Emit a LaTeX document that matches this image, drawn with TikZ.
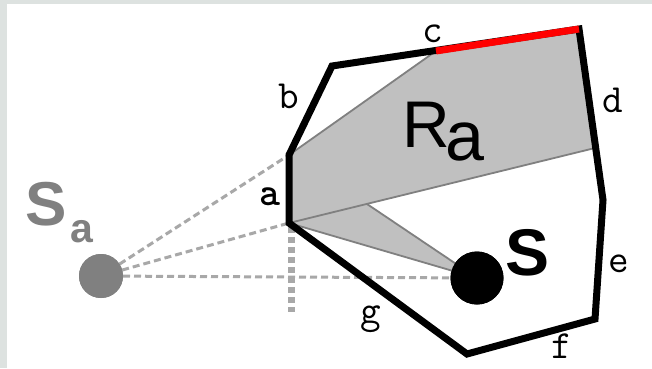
\documentclass[tikz,border=0pt]{standalone}
\usepackage{fontspec}
\setsansfont{Liberation Sans}
\definecolor{framegray}{HTML}{DDE2E0}
\definecolor{regiongray}{HTML}{C0C0C0}
\definecolor{edgegray}{HTML}{808080}
\definecolor{dashgray}{HTML}{A8A8A8}
\definecolor{pointgray}{HTML}{808080}
\begin{document}
\begin{tikzpicture}[x=1pt,y=-1pt,
  region/.style={fill=regiongray},
  regionedge/.style={draw=edgegray,line width=1.8pt},
  sightline/.style={draw=dashgray,line width=3pt,dash pattern=on 7pt off 4pt},
  dropline/.style={draw=dashgray,line width=7pt,dash pattern=on 6pt off 4pt},
  wall/.style={draw=black,line width=7pt,line join=miter},
  redwall/.style={draw=red,line width=7pt},
  vlabel/.style={font=\ttfamily\fontsize{40}{40}\selectfont,inner sep=0pt,anchor=base},
  bigsans/.style={font=\sffamily,inner sep=0pt,anchor=base west}]
\useasboundingbox (0,0) rectangle (652,368);
\fill[framegray] (0,0) rectangle (652,368);
\fill[white] (7,4) rectangle (652,368);
% vertices
\coordinate (A1) at (289,155);
\coordinate (A2) at (289,223);
\coordinate (B) at (332,66);
\coordinate (C) at (436,51);
\coordinate (Cc) at (579,29);
\coordinate (D) at (603,200);
\coordinate (E) at (595,319);
\coordinate (F) at (467,354);
\coordinate (P) at (595,148);
\coordinate (Q) at (367,204);
\coordinate (V0) at (291,227);
\coordinate (V1) at (291,312);
% points
\node[circle,fill=pointgray,minimum size=44pt,inner sep=0pt] (sa) at (101,276) {};
\node[circle,fill=black,minimum size=53pt,inner sep=0pt] (s) at (477,278) {};
% visible region
\fill[region] (A1) -- (C) -- (Cc) -- (P) -- (A2) -- cycle;
\fill[region] (A2) -- (Q) -- (s.center) -- cycle;
\draw[regionedge] (A1) -- (C);
\draw[regionedge] (A2) -- (P);
\draw[regionedge] (Q) -- (s.center);
\draw[regionedge] (A2) -- (s.center);
% sight lines
\draw[sightline] (sa.center) -- (A1);
\draw[sightline] (sa.center) -- (A2);
\draw[sightline] (sa.center) -- (s.center);
\draw[dropline] (V0) -- (V1);
% polygon
\draw[wall] (A2) -- (A1) -- (B) -- (Cc) -- (D) -- (E) -- (F) -- cycle;
\draw[redwall] (C) -- (Cc);
% redraw points on top
\node[circle,fill=pointgray,minimum size=44pt,inner sep=0pt] at (sa) {};
\node[circle,fill=black,minimum size=53pt,inner sep=0pt] at (s) {};
% labels
\node[vlabel,font=\ttfamily\bfseries\fontsize{40}{40}\selectfont] (la) at (270,205) {a};
\node[vlabel] (lb) at (289,108) {b};
\node[vlabel] (lc) at (433,42) {c};
\node[vlabel] (ld) at (613,112) {d};
\node[vlabel] (le) at (619,272) {e};
\node[vlabel] (lf) at (562,358) {f};
\node[vlabel] (lg) at (371,323) {g};
\node[bigsans,text=pointgray] (lsa) at (25,225)
  {\bfseries\fontsize{62}{62}\selectfont S\kern4pt\raisebox{-17pt}{\fontsize{41}{41}\selectfont a}};
\node[bigsans] (lra) at (402,147)
  {\fontsize{66}{66}\selectfont R\kern-4pt\raisebox{-13pt}{\fontsize{70}{70}\selectfont a}};
\node[bigsans] (ls) at (505,275) {\bfseries\fontsize{66}{66}\selectfont S};
\end{tikzpicture}
\end{document}
